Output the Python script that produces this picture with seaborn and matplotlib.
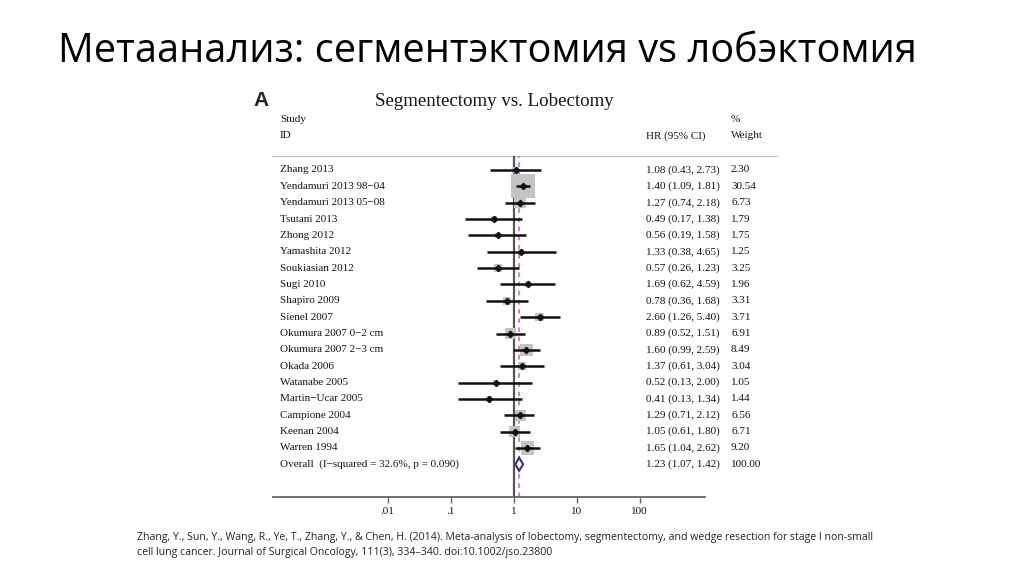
import numpy as np
import pandas as pd
import matplotlib.pyplot as plt
import seaborn as sns
from matplotlib.patches import Polygon

# data
studies = ["Zhang 2013", "Yendamuri 2013 98\u221204", "Yendamuri 2013 05\u221208", "Tsutani 2013",
           "Zhong 2012", "Yamashita 2012", "Soukiasian 2012", "Sugi 2010", "Shapiro 2009",
           "Sienel 2007", "Okumura 2007 0\u22122 cm", "Okumura 2007 2\u22123 cm", "Okada 2006",
           "Watanabe 2005", "Martin\u2212Ucar 2005", "Campione 2004", "Keenan 2004", "Warren 1994"]
hr = [1.08, 1.40, 1.27, 0.49, 0.56, 1.33, 0.57, 1.69, 0.78, 2.60, 0.89, 1.60, 1.37, 0.52, 0.41, 1.29, 1.05, 1.65]
ci_lo = [0.43, 1.09, 0.74, 0.17, 0.19, 0.38, 0.26, 0.62, 0.36, 1.26, 0.52, 0.99, 0.61, 0.13, 0.13, 0.71, 0.61, 1.04]
ci_hi = [2.73, 1.81, 2.18, 1.38, 1.58, 4.65, 1.23, 4.59, 1.68, 5.40, 1.51, 2.59, 3.04, 2.00, 1.34, 2.12, 1.80, 2.62]
weight = [2.30, 30.54, 6.73, 1.79, 1.75, 1.25, 3.25, 1.96, 3.31, 3.71, 6.91, 8.49, 3.04, 1.05, 1.44, 6.56, 6.71, 9.20]
overall_label = "Overall  (I\u2212squared = 32.6%, p = 0.090)"
overall_hr, overall_lo, overall_hi, overall_w = 1.23, 1.07, 1.42, 100.00
xticks = [0.01, 0.1, 1, 10, 100]
xtick_labels = [".01", ".1", "1", "10", "100"]

title = "Метаанализ: сегментэктомия vs лобэктомия"
citation = ("Zhang, Y., Sun, Y., Wang, R., Ye, T., Zhang, Y., & Chen, H. (2014). Meta-analysis of lobectomy, "
            "segmentectomy, and wedge resection for stage I non-small\n"
            "cell lung cancer. Journal of Surgical Oncology, 111(3), 334\u2013340. doi:10.1002/jso.23800")

df = pd.DataFrame({"study": studies, "hr": hr, "lo": ci_lo, "hi": ci_hi, "w": weight})
df["row"] = np.arange(len(df))

sns.set_style("white")
serif = ["Liberation Serif", "DejaVu Serif"]
sans = ["Open Sans", "DejaVu Sans"]
txt = "#151515"

W, H = 1024, 574
fig = plt.figure(figsize=(W / 100, H / 100), dpi=100)
fig.patch.set_facecolor("white")

# overlay axes in pixel coordinates for all the text
ax0 = fig.add_axes([0, 0, 1, 1])
ax0.set_xlim(0, W)
ax0.set_ylim(H, 0)
ax0.axis("off")

ax0.text(58, 52, title, family=sans, fontsize=28.6, va="center", ha="left", color="black")
ax0.text(253, 101, "A", family=["Liberation Sans", "DejaVu Sans"], fontweight="bold", fontsize=15, va="center")
ax0.text(494, 101, "Segmentectomy vs. Lobectomy", family=serif, fontsize=13.6, va="center", ha="center", color=txt)
ax0.text(280, 120, "Study", family=serif, fontsize=8, va="center", color=txt)
ax0.text(280, 136, "ID", family=serif, fontsize=8, va="center", color=txt)
ax0.text(646, 136, "HR (95% CI)", family=serif, fontsize=8, va="center", color=txt)
ax0.text(731, 120, "%", family=serif, fontsize=8, va="center", color=txt)
ax0.text(731, 136, "Weight", family=serif, fontsize=8, va="center", color=txt)
ax0.plot([272, 777], [156, 156], color="#cccccc", lw=1)
ax0.text(137, 545, citation, family=sans, fontsize=7.6, va="center", ha="left", linespacing=1.45)

# forest axes, placed so that one decade spans ~63 px and 1 sits at x~513
row0_px, row_step = 170, 16.35
x1_px, dec_px = 513.5, 63.0
left_px, right_px, top_px, bottom_px = 273, 705, 156, 497
ax = fig.add_axes([left_px / W, 1 - bottom_px / H, (right_px - left_px) / W, (bottom_px - top_px) / H])
ax.set_xscale("log")
ax.set_xlim(10 ** ((left_px - x1_px) / dec_px), 10 ** ((right_px - x1_px) / dec_px))
ax.set_ylim((bottom_px - row0_px) / row_step, (top_px - row0_px) / row_step)
ax.patch.set_alpha(0)

ax.axvline(1, color="#555555", lw=1.6, zorder=1)
ax.axvline(overall_hr, color="#c07070", lw=1.1, ls=(0, (3, 3)), zorder=1)

sns.scatterplot(data=df, x="hr", y="row", size="w", sizes=(0, 300), size_norm=(0, 30.54),
                marker="s", color="#c4c4c4", edgecolor="none", legend=False, ax=ax, zorder=2)
ax.hlines(df["row"], df["lo"], df["hi"], color="#111111", lw=1.8, zorder=3)
ax.plot(df["hr"], df["row"], "D", color="#111111", ms=3.2, zorder=4)

yo = len(df)
diamond = Polygon([(overall_lo, yo), (overall_hr, yo - 0.4), (overall_hi, yo), (overall_hr, yo + 0.4)],
                  closed=True, facecolor="white", edgecolor="#3d2f7a", lw=1.5, zorder=4)
ax.add_patch(diamond)

for i, r in df.iterrows():
    ax0.text(280, row0_px + row_step * i, r["study"], family=serif, fontsize=8, va="center", color=txt)
    ax0.text(646, row0_px + row_step * i, f"{r['hr']:.2f} ({r['lo']:.2f}, {r['hi']:.2f})",
             family=serif, fontsize=8, va="center", color=txt)
    ax0.text(731, row0_px + row_step * i, f"{r['w']:.2f}", family=serif, fontsize=8, va="center", color=txt)
ax0.text(280, row0_px + row_step * yo, overall_label, family=serif, fontsize=8, va="center", color=txt)
ax0.text(646, row0_px + row_step * yo, f"{overall_hr:.2f} ({overall_lo:.2f}, {overall_hi:.2f})",
         family=serif, fontsize=8, va="center", color=txt)
ax0.text(731, row0_px + row_step * yo, f"{overall_w:.2f}", family=serif, fontsize=8, va="center", color=txt)

for s in ["top", "right", "left"]:
    ax.spines[s].set_visible(False)
ax.spines["bottom"].set_color("#666666")
ax.spines["bottom"].set_linewidth(1.3)
ax.set_xticks(xticks)
ax.set_xticklabels(xtick_labels, family=serif, fontsize=8, color=txt)
ax.xaxis.set_minor_locator(plt.NullLocator())
ax.tick_params(axis="x", direction="out", length=4, width=1, color="#666666", pad=3, bottom=True)
ax.set_yticks([])
ax.set_xlabel("")
ax.set_ylabel("")

fig.savefig("out.png", dpi=100, facecolor="white")
